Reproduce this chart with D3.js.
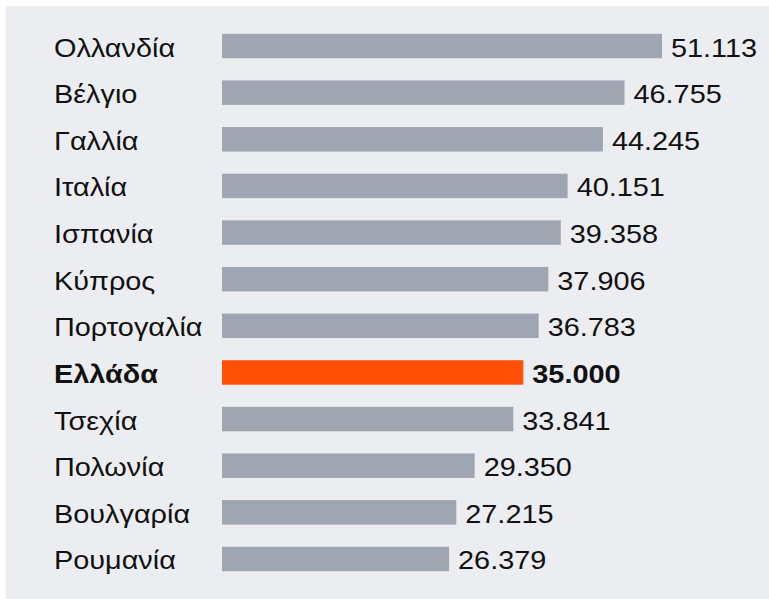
<!DOCTYPE html>
<html>
<head>
<meta charset="utf-8">
<script src="https://cdn.jsdelivr.net/npm/d3@7"></script>
<style>
  body { margin: 0; background: #ffffff; }
  svg { display: block; font-family: "Liberation Sans", Arial, sans-serif; }
</style>
</head>
<body>
<div id="chart"></div>
<script>
// Data
const countries = ['Ολλανδία', 'Βέλγιο', 'Γαλλία', 'Ιταλία', 'Ισπανία', 'Κύπρος', 'Πορτογαλία', 'Ελλάδα', 'Τσεχία', 'Πολωνία', 'Βουλγαρία', 'Ρουμανία'];
const values = [51.113, 46.755, 44.245, 40.151, 39.358, 37.906, 36.783, 35.000, 33.841, 29.350, 27.215, 26.379];
const valueLabels = ['51.113', '46.755', '44.245', '40.151', '39.358', '37.906', '36.783', '35.000', '33.841', '29.350', '27.215', '26.379'];
const highlight = 'Ελλάδα';

const w = 769, h = 599;
const stretch = 1.11; // text in the original is a bit wider than Arial

const svg = d3.select('#chart')
  .append('svg')
  .attr('width', w)
  .attr('height', h);

// panel background
svg.append('rect')
  .attr('x', 6)
  .attr('y', 6)
  .attr('width', w - 6)
  .attr('height', h - 6)
  .attr('fill', '#ecedf0');

const xScale = d3.scaleLinear()
  .domain([0, d3.max(values)])
  .range([222, 662]);

const yScale = d3.scaleBand()
  .domain(countries)
  .range([22.7, 582.3])
  .paddingInner(0.475)
  .paddingOuter(0.2375);

const rows = countries.map((c, i) => ({ name: c, value: values[i], label: valueLabels[i] }));

const row = svg.selectAll('g.row')
  .data(rows)
  .enter()
  .append('g')
  .attr('class', 'row');

row.append('rect')
  .attr('x', xScale(0))
  .attr('y', (d) => yScale(d.name))
  .attr('width', (d) => xScale(d.value) - xScale(0))
  .attr('height', yScale.bandwidth())
  .attr('fill', (d) => d.name === highlight ? '#ff5005' : '#a0a6b1');

// category labels
row.append('text')
  .attr('transform', (d) => 'translate(54,' + (yScale(d.name) + yScale.bandwidth() / 2 + 10.5) + ') scale(' + stretch + ',1)')
  .style('font-size', '26px')
  .style('font-weight', (d) => d.name === highlight ? 'bold' : 'normal')
  .attr('fill', '#111')
  .text((d) => d.name);

// value labels
row.append('text')
  .attr('transform', (d) => 'translate(' + (xScale(d.value) + 9) + ',' + (yScale(d.name) + yScale.bandwidth() / 2 + 10.5) + ') scale(' + stretch + ',1)')
  .style('font-size', '26px')
  .style('font-weight', (d) => d.name === highlight ? 'bold' : 'normal')
  .attr('fill', '#111')
  .text((d) => d.label);
</script>
</body>
</html>
